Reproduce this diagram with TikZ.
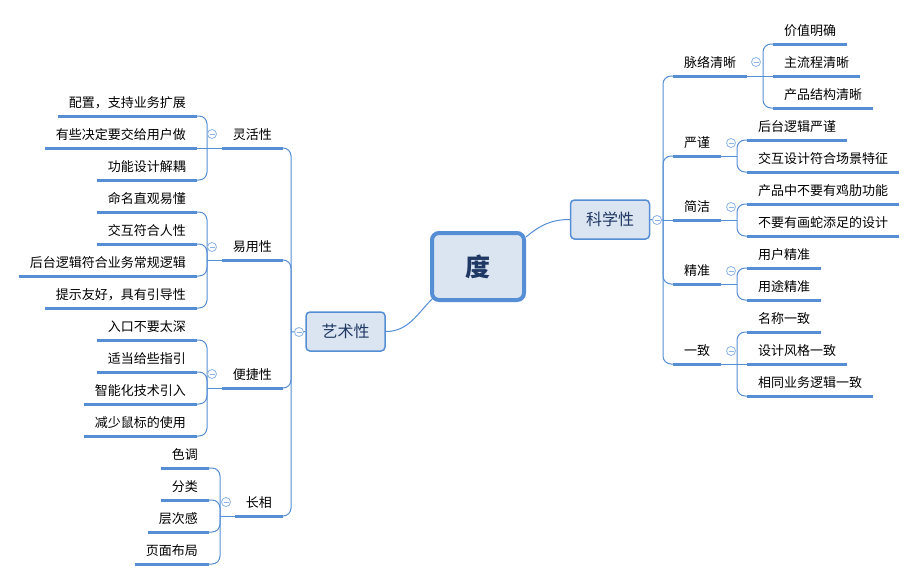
\documentclass[tikz,border=0pt]{standalone}
\usepackage{fontspec}
\setmainfont{Noto Sans CJK SC}
\definecolor{linec}{HTML}{558ED5}
\definecolor{boxfill}{HTML}{DBE5F1}
\definecolor{navy}{HTML}{1F3864}
\definecolor{togc}{HTML}{8DB3E2}
\tikzset{
  conn/.style={draw=linec, line width=1pt},
  brace/.style={conn, rounded corners=8pt},
  ulbar/.style={draw=linec, line width=3pt},
  leaf/.style={font=\fontsize{13pt}{15pt}\selectfont, text=black, inner xsep=11pt, inner ysep=4pt,
    text height=10pt, text depth=4pt,
    append after command={(\tikzlastnode.south west) edge[ulbar] (\tikzlastnode.south east)}},
  topicbox/.style={draw=linec, line width=1.5pt, fill=boxfill, rounded corners=4pt,
    minimum width=79pt, minimum height=39pt, font=\fontsize{16pt}{18pt}\selectfont, text=navy},
  rootbox/.style={draw=linec, line width=4pt, fill=boxfill, rounded corners=7pt,
    minimum width=92pt, minimum height=67pt, font=\fontsize{25pt}{28pt}\selectfont\bfseries, text=navy},
  tog/.style={circle, draw=togc, fill=white, minimum size=9pt, inner sep=0pt, line width=.8pt,
    path picture={\draw[togc, line width=.8pt] ([xshift=-2.5pt]path picture bounding box.center) -- ([xshift=2.5pt]path picture bounding box.center);}}
}
\begin{document}
\begin{tikzpicture}[x=1pt,y=-1pt]
\fill[white] (0,0) rectangle (917,581);
\useasboundingbox (0,0) rectangle (917,581);

% main nodes
\node[rootbox] (root) at (478,266.5) {度};
\node[topicbox] (sci) at (610,219.5) {科学性};
\node[topicbox] (art) at (345.5,331.5) {艺术性};

% right subtopics
\node[leaf, anchor=south west] (A) at (673,76) {脉络清晰};
\node[leaf, anchor=south west] (B) at (673,156) {严谨};
\node[leaf, anchor=south west] (C) at (673,220) {简洁};
\node[leaf, anchor=south west] (D) at (673,284) {精准};
\node[leaf, anchor=south west] (E) at (673,364) {一致};

% right leaves
\node[leaf, anchor=south west] (a1) at (773,44) {价值明确};
\node[leaf, anchor=south west] (a2) at (773,76) {主流程清晰};
\node[leaf, anchor=south west] (a3) at (773,108) {产品结构清晰};
\node[leaf, anchor=south west] (b1) at (747,140) {后台逻辑严谨};
\node[leaf, anchor=south west] (b2) at (747,172) {交互设计符合场景特征};
\node[leaf, anchor=south west] (c1) at (747,204) {产品中不要有鸡肋功能};
\node[leaf, anchor=south west] (c2) at (747,236) {不要有画蛇添足的设计};
\node[leaf, anchor=south west] (d1) at (747,268) {用户精准};
\node[leaf, anchor=south west] (d2) at (747,300) {用途精准};
\node[leaf, anchor=south west] (e1) at (747,332) {名称一致};
\node[leaf, anchor=south west] (e2) at (747,364) {设计风格一致};
\node[leaf, anchor=south west] (e3) at (747,396) {相同业务逻辑一致};

% left subtopics
\node[leaf, anchor=south east] (L1) at (283,148) {灵活性};
\node[leaf, anchor=south east] (L2) at (283,260) {易用性};
\node[leaf, anchor=south east] (L3) at (283,388) {便捷性};
\node[leaf, anchor=south east] (L4) at (283,516) {长相};

% left leaves
\node[leaf, anchor=south east] (l11) at (197,116) {配置，支持业务扩展};
\node[leaf, anchor=south east] (l12) at (197,148) {有些决定要交给用户做};
\node[leaf, anchor=south east] (l13) at (197,180) {功能设计解耦};
\node[leaf, anchor=south east] (l21) at (197,212) {命名直观易懂};
\node[leaf, anchor=south east] (l22) at (197,244) {交互符合人性};
\node[leaf, anchor=south east] (l23) at (197,276) {后台逻辑符合业务常规逻辑};
\node[leaf, anchor=south east] (l24) at (197,308) {提示友好，具有引导性};
\node[leaf, anchor=south east] (l31) at (197,340) {入口不要太深};
\node[leaf, anchor=south east] (l32) at (197,372) {适当给些指引};
\node[leaf, anchor=south east] (l33) at (197,404) {智能化技术引入};
\node[leaf, anchor=south east] (l34) at (197,436) {减少鼠标的使用};
\node[leaf, anchor=south east] (l41) at (209,468) {色调};
\node[leaf, anchor=south east] (l42) at (209,500) {分类};
\node[leaf, anchor=south east] (l43) at (209,532) {层次感};
\node[leaf, anchor=south east] (l44) at (209,564) {页面布局};

% junction points
\coordinate (Psci) at (663,220);
\coordinate (Part) at (291,332);
\coordinate (pA) at (763,76);
\coordinate (pB) at (737,156);
\coordinate (pC) at (737,220);
\coordinate (pD) at (737,284);
\coordinate (pE) at (737,364);
\coordinate (pL1) at (207,148);
\coordinate (pL2) at (207,260);
\coordinate (pL3) at (207,388);
\coordinate (pL4) at (220,516);

% root connectors
\draw[conn] ([yshift=-6pt]root.north east) to[out=40,in=180] (sci.west);
\draw[conn] (art.east) to[out=0,in=225] ([shift={(3pt,4pt)}]root.south west);

% right trunk
\draw[conn] (sci.east) -- (Psci);
\draw[brace] (Psci) |- (A.south west);
\draw[brace] (Psci) |- (B.south west);
\draw[conn] (Psci) -- (C.south west);
\draw[brace] (Psci) |- (D.south west);
\draw[brace] (Psci) |- (E.south west);

% right braces
\draw[conn] (A.south east) -- (pA);
\draw[brace] (pA) |- (a1.south west);
\draw[conn] (pA) -- (a2.south west);
\draw[brace] (pA) |- (a3.south west);
\draw[conn] (B.south east) -- (pB);
\draw[brace] (pB) |- (b1.south west);
\draw[brace] (pB) |- (b2.south west);
\draw[conn] (C.south east) -- (pC);
\draw[brace] (pC) |- (c1.south west);
\draw[brace] (pC) |- (c2.south west);
\draw[conn] (D.south east) -- (pD);
\draw[brace] (pD) |- (d1.south west);
\draw[brace] (pD) |- (d2.south west);
\draw[conn] (E.south east) -- (pE);
\draw[brace] (pE) |- (e1.south west);
\draw[conn] (pE) -- (e2.south west);
\draw[brace] (pE) |- (e3.south west);

% left trunk
\draw[conn] (art.west) -- (Part);
\draw[brace] (Part) |- (L1.south east);
\draw[brace] (Part) |- (L2.south east);
\draw[brace] (Part) |- (L3.south east);
\draw[brace] (Part) |- (L4.south east);

% left braces
\draw[conn] (L1.south west) -- (pL1);
\draw[brace] (pL1) |- (l11.south east);
\draw[conn] (pL1) -- (l12.south east);
\draw[brace] (pL1) |- (l13.south east);
\draw[conn] (L2.south west) -- (pL2);
\draw[brace] (pL2) |- (l21.south east);
\draw[brace] (pL2) |- (l22.south east);
\draw[brace] (pL2) |- (l23.south east);
\draw[brace] (pL2) |- (l24.south east);
\draw[conn] (L3.south west) -- (pL3);
\draw[brace] (pL3) |- (l31.south east);
\draw[brace] (pL3) |- (l32.south east);
\draw[brace] (pL3) |- (l33.south east);
\draw[brace] (pL3) |- (l34.south east);
\draw[conn] (L4.south west) -- (pL4);
\draw[brace] (pL4) |- (l41.south east);
\draw[brace] (pL4) |- (l42.south east);
\draw[brace] (pL4) |- (l43.south east);
\draw[brace] (pL4) |- (l44.south east);

% toggles
\node[tog] (tsci) at (657,220) {};
\node[tog] (tart) at (299,332) {};
\node[tog] (tA) at (756,62) {};
\node[tog] (tB) at (731,143) {};
\node[tog] (tC) at (731,207) {};
\node[tog] (tD) at (731,271) {};
\node[tog] (tE) at (731,351) {};
\node[tog] (tL1) at (212,134) {};
\node[tog] (tL2) at (212,247) {};
\node[tog] (tL3) at (212,374) {};
\node[tog] (tL4) at (226,502) {};
\end{tikzpicture}
\end{document}
